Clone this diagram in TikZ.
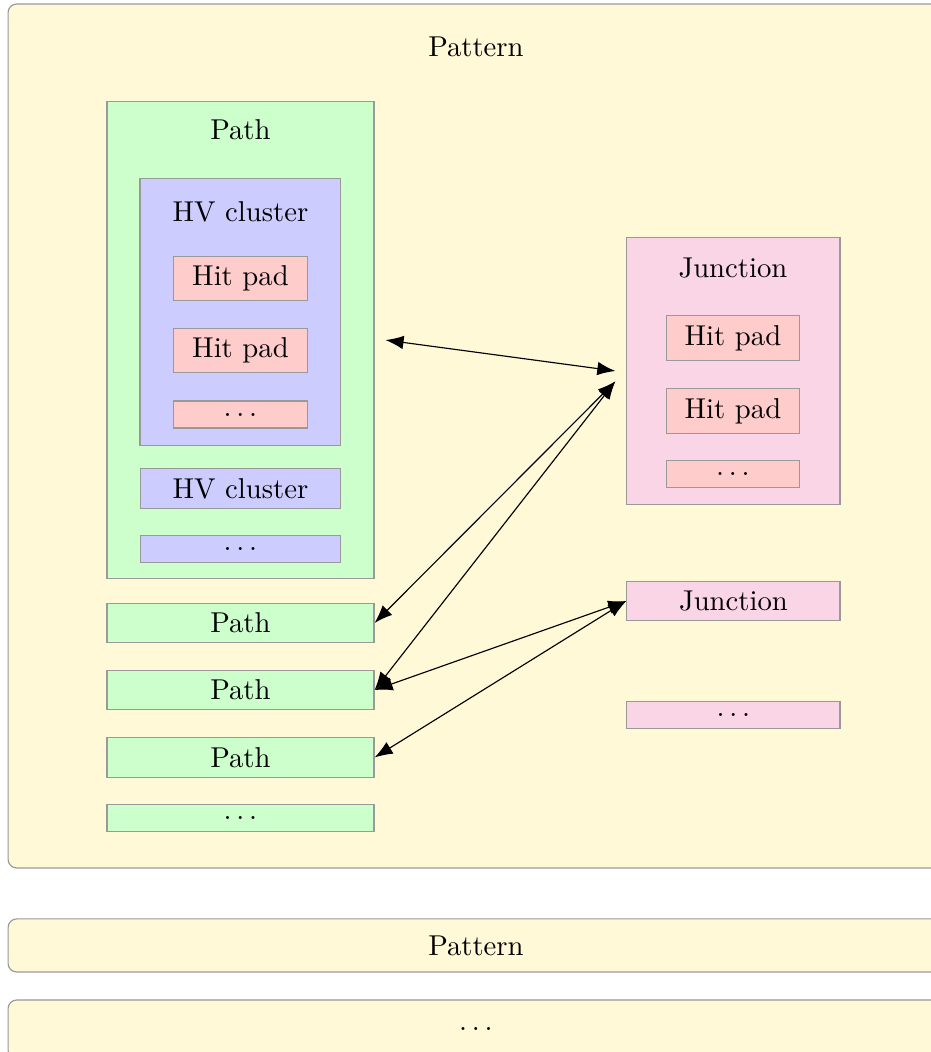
\documentclass[tikz,border=0pt]{standalone}
\usepackage{xcolor}
\usepackage{tikz}
\usetikzlibrary{arrows.meta, positioning}

\definecolor{patfill}{RGB}{255,249,215}
\definecolor{pathfill}{RGB}{204,255,204}
\definecolor{hvfill}{RGB}{204,204,255}
\definecolor{padfill}{RGB}{255,204,204}
\definecolor{jctfill}{RGB}{249,213,230}

\begin{document}
\begin{tikzpicture}[
  patnode/.style={draw=black!40, fill=patfill, rounded corners=3pt, minimum width=11.46cm},
  grp/.style={draw=black!40, outer sep=4pt},
  leaf/.style={draw=black!40},
  dotsleaf/.style={leaf, minimum height=0.33cm},
  edge/.style={{Latex[length=6.3pt]}-{Latex[length=6.3pt]}}
]
\useasboundingbox (0,0) rectangle (11.401,-12.883);

% pattern level
\node[patnode, minimum height=10.58cm] (pattern) at (5.829,-5.339) {};
\node (patttl) at (5.829,-0.576) {Pattern};

% path with its HV clusters
\node[grp, fill=pathfill, minimum width=3.27cm, minimum height=5.85cm] (pathbox) at (2.945,-4.164) {};
\node (pathttl) at (2.945,-1.592) {Path};
\node[grp, fill=hvfill, minimum width=2.46cm, minimum height=3.26cm] (hvbox) at (2.945,-3.821) {};
\node (hvttl) at (2.945,-2.596) {HV cluster};
\node[leaf, fill=padfill, minimum width=1.64cm] (hit1) at (2.945,-3.411) {Hit pad};
\node[leaf, fill=padfill, minimum width=1.64cm] (hit2) at (2.945,-4.292) {Hit pad};
\node[dotsleaf, fill=padfill, minimum width=1.64cm] (hitdots) at (2.945,-5.076) {$\ldots$};
\node[leaf, fill=hvfill, minimum width=2.45cm] (hv2) at (2.945,-5.982) {HV cluster};
\node[dotsleaf, fill=hvfill, minimum width=2.45cm] (hvdots) at (2.945,-6.723) {$\ldots$};

\node[leaf, fill=pathfill, minimum width=3.27cm] (path1) at (2.945,-7.629) {Path};
\node[leaf, fill=pathfill, minimum width=3.27cm] (path2) at (2.945,-8.450) {Path};
\node[leaf, fill=pathfill, minimum width=3.27cm] (path3) at (2.945,-9.276) {Path};
\node[dotsleaf, fill=pathfill, minimum width=3.27cm] (pathdots) at (2.945,-10.017) {$\ldots$};

% junctions
\node[grp, fill=jctfill, minimum width=2.61cm, minimum height=3.26cm] (jctbox) at (8.982,-4.543) {};
\node (jctttl) at (8.976,-3.282) {Junction};
\node[leaf, fill=padfill, minimum width=1.62cm] (jhit1) at (8.976,-4.139) {Hit pad};
\node[leaf, fill=padfill, minimum width=1.62cm] (jhit2) at (8.976,-5.033) {Hit pad};
\node[dotsleaf, fill=padfill, minimum width=1.62cm] (jhitdots) at (8.976,-5.805) {$\ldots$};
\node[leaf, fill=jctfill, minimum width=2.61cm] (jct2) at (8.982,-7.360) {Junction};
\node[dotsleaf, fill=jctfill, minimum width=2.61cm] (jctdots) at (8.982,-8.756) {$\ldots$};

\draw[edge] (pathbox.east) -- (jctbox.west);
\draw[edge] (path1.east) -- (jctbox.185);
\draw[edge] (path2.east) -- (jctbox.185);
\draw[edge] (path2.east) -- (jct2.west);
\draw[edge] (path3.east) -- (jct2.west);

% more patterns
\node[patnode, minimum height=0.65cm] (pattern2) at (5.829,-11.578) {Pattern};
\node[patnode, minimum height=0.72cm] (patdots) at (5.829,-12.606) {$\ldots$};
\end{tikzpicture}
\end{document}
